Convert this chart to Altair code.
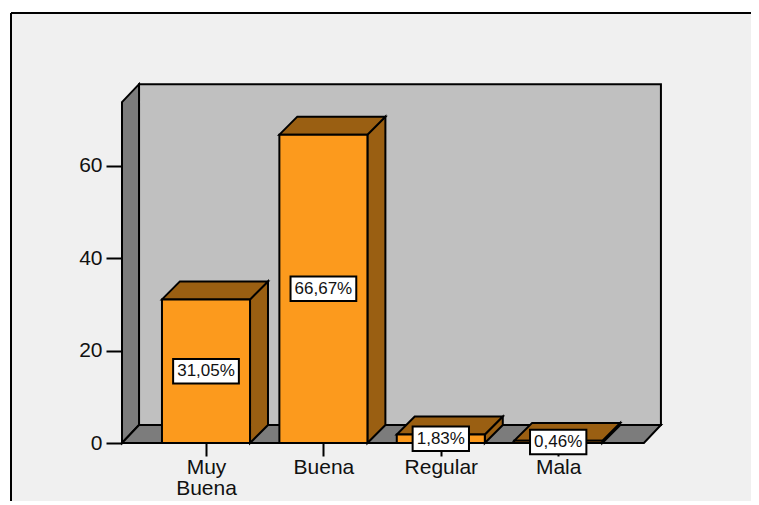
import json
import altair as alt
import pandas as pd

categories = [["Muy", "Buena"], ["Buena"], ["Regular"], ["Mala"]]
values = [31.05, 66.67, 1.83, 0.46]
percent_labels = ["31,05%", "66,67%", "1,83%", "0,46%"]
y_ticks = [0, 20, 40, 60]

FONT = "Liberation Sans"
W, H = 740, 488
PX_PER_UNIT = 4.625
PX_PER_CAT = 117.4
ZERO_PX = 430     # y=0 measured from the top of the frame
HALF = 0.375      # half bar width in category units
DX, DY = 0.153, 3.89   # depth of the bars, in axis units
WDX = 0.145            # depth of the walls, in category units
WALL_L, WALL_R, WALL_T = -0.7155, 3.73, 73.7

x_scale = alt.Scale(domain=[-1.661, -1.661 + W / PX_PER_CAT], nice=False, zero=False)
y_scale = alt.Scale(domain=[-(H - ZERO_PX) / PX_PER_UNIT, ZERO_PX / PX_PER_UNIT], nice=False, zero=False)
X = lambda **k: alt.X("x:Q", scale=x_scale, title=None, **k)
Y = lambda **k: alt.Y("y:Q", scale=y_scale, title=None, **k)
X2 = alt.X2("x2:Q")
Y2 = alt.Y2("y2:Q")

EDGE = dict(stroke="black", strokeWidth=2, strokeJoin="miter")

frame_left = alt.Chart(pd.DataFrame({"a": [0]})).mark_rule(color="black", strokeWidth=2).encode(
    x=alt.value(0), y=alt.value(0), y2=alt.value(H))
frame_top = alt.Chart(pd.DataFrame({"a": [0]})).mark_rule(color="black", strokeWidth=2).encode(
    x=alt.value(0), x2=alt.value(W), y=alt.value(0))

back = alt.Chart(pd.DataFrame({
    "x": [WALL_L + WDX], "x2": [WALL_R + WDX], "y": [DY], "y2": [WALL_T + DY],
})).mark_rect(color="#c0c0c0", **EDGE).encode(
    x=X(axis=alt.Axis(
        values=[0, 1, 2, 3], labelExpr=json.dumps(categories) + "[datum.value]",
        offset=-(H - ZERO_PX), domain=False, grid=False, tickSize=13, tickWidth=2, tickColor="black",
        labelFont=FONT, labelFontSize=21, labelColor="#111111", labelPadding=0,
        labelLineHeight=21.5, labelOverlap=False, labelFlush=False, labelBound=False,
        labelAngle=0, labelBaseline="top")),
    x2=X2,
    y=Y(axis=alt.Axis(
        values=y_ticks, offset=-111, domain=False, grid=False, tickSize=16, tickWidth=2,
        tickColor="black", labelFont=FONT, labelFontSize=21, labelColor="#111111",
        labelPadding=4, labelOverlap=False, labelFlush=False, labelBound=False)),
    y2=Y2,
)

left_wall = alt.Chart(pd.DataFrame({
    "x": [WALL_L, WALL_L + WDX], "y": [WALL_T, WALL_T + DY], "y2": [0, DY],
})).mark_area(color="#7c7c7c", **EDGE).encode(
    x=X(), y=Y(stack=None), y2=Y2)

floor = alt.Chart(pd.DataFrame({
    "y": [0, DY], "x": [WALL_L, WALL_L + WDX], "x2": [WALL_R, WALL_R + WDX],
})).mark_area(color="#7c7c7c", orient="horizontal", **EDGE).encode(
    y=Y(), x=X(stack=None), x2=X2)

bar_layers = []
for i, v in enumerate(values):
    side = alt.Chart(pd.DataFrame({
        "x": [i + HALF, i + HALF + DX], "y": [v, v + DY], "y2": [0, DY],
    })).mark_area(color="#9a5f12", **EDGE).encode(
        x=X(), y=Y(stack=None), y2=Y2)
    top = alt.Chart(pd.DataFrame({
        "y": [v, v + DY], "x": [i - HALF, i - HALF + DX], "x2": [i + HALF, i + HALF + DX],
    })).mark_area(color="#9a5f12", orient="horizontal", **EDGE).encode(
        y=Y(), x=X(stack=None), x2=X2)
    front = alt.Chart(pd.DataFrame({
        "x": [i - HALF], "x2": [i + HALF], "y": [0], "y2": [v],
    })).mark_rect(color="#fc9a1d", **EDGE).encode(
        x=X(), x2=X2, y=Y(), y2=Y2)
    bar_layers += [side, top, front]

labels_df = pd.DataFrame({
    "x": list(range(len(values))),
    "y": [v / 2 for v in values],
    "t": percent_labels,
})
labels_df["hw"] = [0.28 if len(t) == 6 else 0.24 for t in percent_labels]
labels_df["x1"] = labels_df["x"] - labels_df["hw"]
labels_df["x2"] = labels_df["x"] + labels_df["hw"]
labels_df["y1"] = labels_df["y"] - 2.65
labels_df["y2"] = labels_df["y"] + 2.65

boxes = alt.Chart(labels_df).mark_rect(color="white", **EDGE).encode(
    x=alt.X("x1:Q", scale=x_scale, title=None), x2=X2,
    y=alt.Y("y1:Q", scale=y_scale, title=None), y2=Y2)
texts = alt.Chart(labels_df).mark_text(
    font=FONT, fontSize=17, color="#111111", align="center", baseline="middle"
).encode(x=X(), y=Y(), text="t:N")

chart = alt.layer(
    back, left_wall, floor, *bar_layers, boxes, texts, frame_left, frame_top
).properties(
    width=W, height=H,
    padding={"left": 3, "top": 5, "right": 0, "bottom": 0},
    autosize=alt.AutoSizeParams(type="none"),
    background="white",
).configure_view(fill="#f0f0f0", stroke=None)

chart.save("out.html", embed_options={"renderer": "svg", "actions": False})
